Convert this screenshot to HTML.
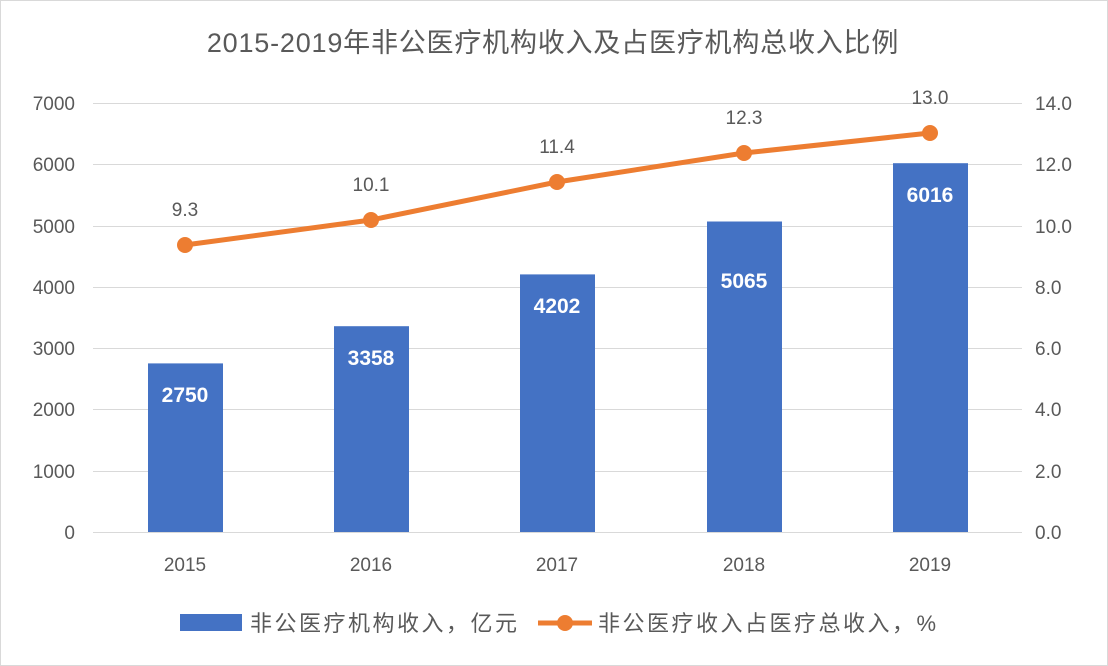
<!DOCTYPE html>
<html><head><meta charset="utf-8"><style>
body{margin:0;background:#fff;}
svg{display:block;font-family:"Liberation Sans","Noto Sans CJK SC",sans-serif;}
</style></head><body>
<svg width="1108" height="666" viewBox="0 0 1108 666">
<rect x="0.5" y="0.5" width="1107" height="665" fill="#fff" stroke="#d9d9d9"/>
<text x="553" y="52" text-anchor="middle" font-size="27" letter-spacing="0.8" fill="#595959">2015-2019年非公医疗机构收入及占医疗机构总收入比例</text>
<g stroke="#d9d9d9" stroke-width="1">
<line x1="93" x2="1022" y1="103.5" y2="103.5"/>
<line x1="93" x2="1022" y1="164.5" y2="164.5"/>
<line x1="93" x2="1022" y1="226.5" y2="226.5"/>
<line x1="93" x2="1022" y1="287.5" y2="287.5"/>
<line x1="93" x2="1022" y1="348.5" y2="348.5"/>
<line x1="93" x2="1022" y1="409.5" y2="409.5"/>
<line x1="93" x2="1022" y1="471.5" y2="471.5"/>
<line x1="93" x2="1022" y1="532.5" y2="532.5"/>
</g>
<g font-size="19" fill="#595959" text-anchor="end">
<text x="75" y="110">7000</text><text x="75" y="171">6000</text><text x="75" y="233">5000</text><text x="75" y="294">4000</text><text x="75" y="355">3000</text><text x="75" y="416">2000</text><text x="75" y="478">1000</text><text x="75" y="539">0</text>
</g>
<g font-size="19" fill="#595959" text-anchor="start">
<text x="1035" y="110">14.0</text><text x="1035" y="171">12.0</text><text x="1035" y="233">10.0</text><text x="1035" y="294">8.0</text><text x="1035" y="355">6.0</text><text x="1035" y="416">4.0</text><text x="1035" y="478">2.0</text><text x="1035" y="539">0.0</text>
</g>
<g fill="#4472c4">
<rect x="148" y="363.4" width="75" height="168.6"/>
<rect x="334" y="326.2" width="75" height="205.8"/>
<rect x="520" y="274.4" width="75" height="257.6"/>
<rect x="707" y="221.5" width="75" height="310.5"/>
<rect x="893" y="163.2" width="75" height="368.8"/>
</g>
<g font-size="21" font-weight="bold" fill="#fff" text-anchor="middle">
<text x="185" y="402">2750</text><text x="371" y="365">3358</text><text x="557" y="313">4202</text><text x="744" y="288">5065</text><text x="930" y="202">6016</text>
</g>
<g font-size="19" fill="#595959" text-anchor="middle">
<text x="185" y="571">2015</text><text x="371" y="571">2016</text><text x="557" y="571">2017</text><text x="744" y="571">2018</text><text x="930" y="571">2019</text>
</g>
<polyline points="185,245 371,220 557,182 744,153 930,133" fill="none" stroke="#ed7d31" stroke-width="5" stroke-linejoin="round"/>
<g fill="#ed7d31">
<circle cx="185" cy="245" r="8"/><circle cx="371" cy="220" r="8"/><circle cx="557" cy="182" r="8"/><circle cx="744" cy="153" r="8"/><circle cx="930" cy="133" r="8"/>
</g>
<g font-size="19" fill="#595959" text-anchor="middle">
<text x="185" y="216">9.3</text><text x="371" y="191">10.1</text><text x="557" y="153">11.4</text><text x="744" y="124">12.3</text><text x="930" y="104">13.0</text>
</g>
<rect x="180" y="614" width="62" height="17" fill="#4472c4"/>
<text x="250" y="631" font-size="22" letter-spacing="2.5" fill="#595959">非公医疗机构收入，亿元</text>
<line x1="538" x2="592" y1="623" y2="623" stroke="#ed7d31" stroke-width="5"/>
<circle cx="565" cy="623" r="8" fill="#ed7d31"/>
<text x="598" y="631" font-size="22" letter-spacing="2.5" fill="#595959">非公医疗收入占医疗总收入，%</text>
</svg>
</body></html>
